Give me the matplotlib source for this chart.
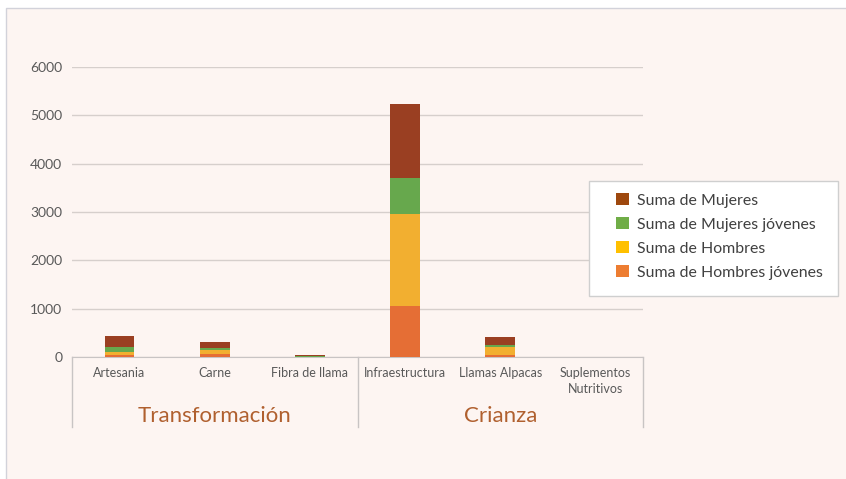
import matplotlib.pyplot as plt
from matplotlib.patches import Rectangle, Patch
import matplotlib.transforms as mtransforms
import numpy as np

plt.rcParams['font.family'] = ['Lato', 'DejaVu Sans']

categories = ["Artesania", "Carne", "Fibra de llama", "Infraestructura",
              "Llamas Alpacas", "Suplementos\nNutritivos"]
groups = ["Transformación", "Crianza"]
group_sizes = [3, 3]

# stacked from bottom to top
hombres_jovenes = [35, 55, 3, 1060, 40, 0]
hombres = [70, 85, 5, 1890, 160, 0]
mujeres_jovenes = [110, 45, 12, 750, 50, 0]
mujeres = [220, 120, 12, 1530, 165, 0]

series = [
    ("Suma de Hombres jóvenes", hombres_jovenes, "#E56E35", "#ED7D31"),
    ("Suma de Hombres", hombres, "#F2AF30", "#FFC000"),
    ("Suma de Mujeres jóvenes", mujeres_jovenes, "#67A84D", "#70AD47"),
    ("Suma de Mujeres", mujeres, "#9A3F22", "#9E480E"),
]

W, H = 846, 479
fig = plt.figure(figsize=(W / 100, H / 100), dpi=100, facecolor="white")

# light panel behind the chart
panel = Rectangle((6 / W, -0.01), 1.0, (H - 8) / H + 0.01, transform=fig.transFigure,
                  facecolor="#FDF5F2", edgecolor="#D2D2DA", linewidth=1.0, zorder=-5)
fig.patches.append(panel)

ax = fig.add_axes([72 / W, (H - 357) / H, (643 - 72) / W, (357 - 67) / H])
ax.set_facecolor("none")

x = np.arange(len(categories))
bottom = np.zeros(len(categories))
for name, vals, col, _ in series:
    ax.bar(x, vals, bottom=bottom, width=0.31, color=col, zorder=3)
    bottom += np.array(vals)

ax.set_xlim(-0.5, len(categories) - 0.5)
ax.set_ylim(0, 6000)
ax.set_yticks(range(0, 6001, 1000))
ax.yaxis.grid(True, color="#D6CFCC", linewidth=1.0, zorder=0)
ax.tick_params(axis="y", length=0, pad=7, labelsize=10, labelcolor="#595959")
ax.set_xticks([])
for s in ["top", "right", "left"]:
    ax.spines[s].set_visible(False)
ax.spines["bottom"].set_color("#C8C4C4")

# category axis box
trans = mtransforms.blended_transform_factory(ax.transData, ax.transAxes)
depth = 70 / 290
edges = [-0.5]
for n in group_sizes:
    edges.append(edges[-1] + n)
for e in edges:
    ax.plot([e, e], [0, -depth], transform=trans, color="#C8C4C4",
            linewidth=1.0, clip_on=False)

for i, cat in enumerate(categories):
    ax.text(i, -0.035, cat, transform=trans, ha="center", va="top",
            fontsize=9, color="#595959", linespacing=1.35)

for gi, g in enumerate(groups):
    mid = (edges[gi] + edges[gi + 1]) / 2
    ax.text(mid, -0.205, g, transform=trans, ha="center", va="center",
            fontsize=16, color="#B0602F")

# legend box drawn separately so the inner padding can match
box = Rectangle((589 / W, 1 - 296 / H), (838 - 589) / W, (296 - 181) / H,
                transform=fig.transFigure, facecolor="white",
                edgecolor="#CFCFCF", linewidth=1.0, zorder=4)
fig.patches.append(box)

handles = [Patch(facecolor=lc, edgecolor="none", label=name)
           for name, _, _, lc in reversed(series)]
leg = fig.legend(handles=handles, loc="upper left",
                 bbox_to_anchor=(616 / W, 1 - 193 / H),
                 borderaxespad=0, frameon=False,
                 fontsize=11.4, handlelength=0.8, handleheight=0.8,
                 handletextpad=0.5, labelspacing=0.6, borderpad=0.0)
leg.set_zorder(6)
for t in leg.get_texts():
    t.set_color("#404040")

fig.savefig("out.png", dpi=100, facecolor="white")
